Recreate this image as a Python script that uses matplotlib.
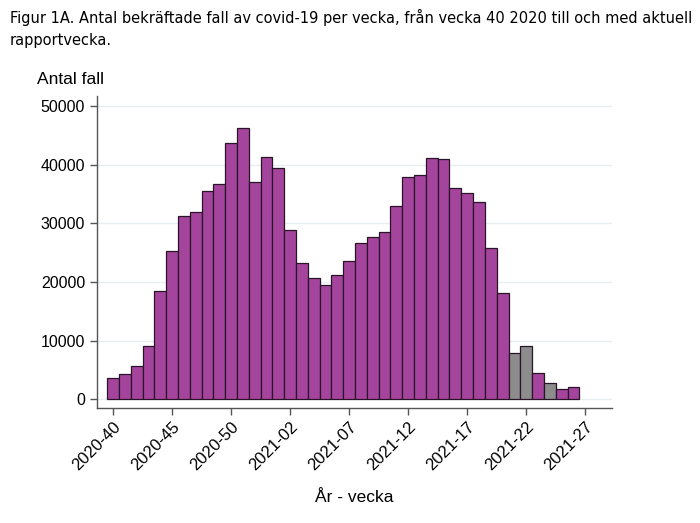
import numpy as np
import matplotlib.pyplot as plt

# weekly confirmed cases, 2020-40 .. 2021-26
weeks = ["2020-40", "2020-41", "2020-42", "2020-43", "2020-44", "2020-45", "2020-46",
         "2020-47", "2020-48", "2020-49", "2020-50", "2020-51", "2020-52", "2020-53",
         "2021-01", "2021-02", "2021-03", "2021-04", "2021-05", "2021-06", "2021-07",
         "2021-08", "2021-09", "2021-10", "2021-11", "2021-12", "2021-13", "2021-14",
         "2021-15", "2021-16", "2021-17", "2021-18", "2021-19", "2021-20", "2021-21",
         "2021-22", "2021-23", "2021-24", "2021-25", "2021-26"]
cases = [3700, 4250, 5600, 9150, 18450, 25350, 31250, 31850, 35450, 36750,
         43600, 46150, 37050, 41250, 39400, 28850, 23250, 20600, 19550, 21200,
         23550, 26600, 27700, 28450, 32950, 37800, 38250, 41050, 40900, 35950,
         35200, 33600, 25850, 18150, 7900, 9100, 4400, 2700, 1800, 2050]
# bars drawn in grey
grey_weeks = ["2021-21", "2021-22", "2021-24"]

tick_labels = ["2020-40", "2020-45", "2020-50", "2021-02", "2021-07",
               "2021-12", "2021-17", "2021-22", "2021-27"]

purple = "#A4449C"
grey = "#8C8C8C"
colors = [grey if w in grey_weeks else purple for w in weeks]

fig = plt.figure(figsize=(7, 5.23), dpi=100)
ax = fig.add_axes([97 / 700, 115 / 523, 515 / 700, 312 / 523])

x = np.arange(len(weeks))
ax.bar(x, cases, width=1.0, color=colors, edgecolor="#2a1528", linewidth=0.9, zorder=3)

ax.set_xlim(-1.37, 42.27)
ax.set_ylim(-1480, 51670)
ax.set_yticks(np.arange(0, 50001, 10000))
ax.set_yticklabels([str(v) for v in range(0, 50001, 10000)], fontsize=11.5,
                   family="Liberation Sans")
ax.set_xticks(np.arange(0, 5 * len(tick_labels), 5))
ax.set_xticklabels(tick_labels, rotation=45, ha="right", rotation_mode="anchor",
                   fontsize=12, family="Liberation Sans")
ax.tick_params(axis="both", direction="out", length=5, width=1, color="#555555")
ax.tick_params(axis="x", pad=3)
ax.grid(axis="y", color="#e8eef0", linewidth=1, zorder=0)

for side in ["top", "right"]:
    ax.spines[side].set_visible(False)
for side in ["left", "bottom"]:
    ax.spines[side].set_color("#555555")
    ax.spines[side].set_linewidth(1)

ax.set_xlabel("År - vecka", fontsize=12.5, family="Liberation Sans", labelpad=12)
fig.text(37 / 700, 1 - 80 / 523, "Antal fall", fontsize=12.5, family="Liberation Sans",
         va="center", ha="left")

fig.text(10 / 700, 1 - 9 / 523,
         "Figur 1A. Antal bekräftade fall av covid-19 per vecka, från vecka 40 2020 till och med aktuell\nrapportvecka.",
         fontsize=10.5, family="DejaVu Sans", va="top", ha="left", linespacing=1.6)

fig.savefig("out.png", dpi=100)
